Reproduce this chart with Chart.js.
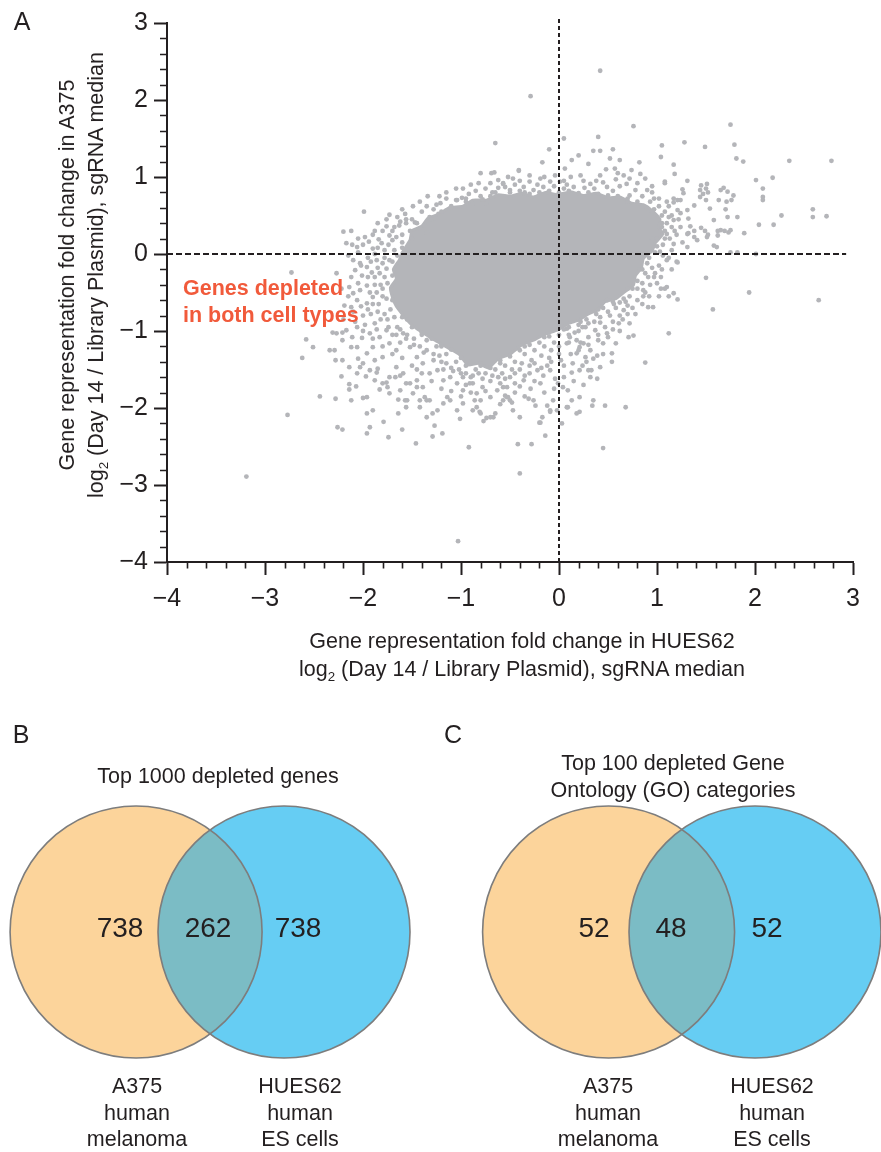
<!DOCTYPE html>
<html>
<head>
<meta charset="utf-8">
<script src="https://cdn.jsdelivr.net/npm/chart.js@4.4.1/dist/chart.umd.min.js"></script>
<style>
  html, body { margin: 0; padding: 0; background: #fff; }
  #fig { position: relative; width: 881px; height: 1152px; overflow: hidden;
         font-family: "Liberation Sans", Arial, Helvetica, sans-serif; color: #231f20; }
  canvas { position: absolute; }
  .t { position: absolute; white-space: nowrap; transform: translate(-50%, -50%);
       text-align: center; font-size: 21.5px; line-height: 27px; }
  .t sub { font-size: 0.62em; line-height: 0; vertical-align: -0.35em; }
  .panel { font-size: 25px; line-height: 30px; }
  .num { font-size: 28px; line-height: 32px; }
  .ann { position: absolute; white-space: nowrap; transform: translateY(-50%);
         font-size: 21.5px; line-height: 26.5px; font-weight: bold; color: #f15a3b; }
</style>
</head>
<body>
<div id="fig">
  <canvas id="scatterA" width="881" height="700" style="left:0;top:0"></canvas>
  <canvas id="vennB" width="440" height="452" style="left:0;top:700px"></canvas>
  <canvas id="vennC" width="441" height="452" style="left:440px;top:700px"></canvas>

  <div class="t panel" style="left:22px;top:21px">A</div>
  <div class="t" style="left:82px;top:275px;line-height:29px;transform:translate(-50%,-50%) rotate(-90deg)">Gene representation fold change in A375<br>log<sub>2</sub> (Day 14 / Library Plasmid), sgRNA median</div>
  <div class="t" style="left:522px;top:655px;line-height:28px">Gene representation fold change in HUES62<br>log<sub>2</sub> (Day 14 / Library Plasmid), sgRNA median</div>
  <div class="ann" style="left:183px;top:301px">Genes depleted<br>in both cell types</div>

  <div class="t panel" style="left:21px;top:734px">B</div>
  <div class="t" id="titleB" style="left:218px;top:776px"></div>
  <div class="t num" id="b0" style="left:120px;top:928px"></div>
  <div class="t num" id="b1" style="left:208px;top:928px"></div>
  <div class="t num" id="b2" style="left:298px;top:928px"></div>
  <div class="t" id="labB0" style="left:137px;top:1113px;line-height:26.5px"></div>
  <div class="t" id="labB1" style="left:300px;top:1113px;line-height:26.5px"></div>

  <div class="t panel" style="left:453px;top:734px">C</div>
  <div class="t" id="titleC" style="left:673px;top:777px"></div>
  <div class="t num" id="c0" style="left:594px;top:928px"></div>
  <div class="t num" id="c1" style="left:671px;top:928px"></div>
  <div class="t num" id="c2" style="left:767px;top:928px"></div>
  <div class="t" id="labC0" style="left:608px;top:1113px;line-height:26.5px"></div>
  <div class="t" id="labC1" style="left:772px;top:1113px;line-height:26.5px"></div>
</div>

<script>
// ---------- Panel A data: log2 fold change per gene (x = HUES62, y = A375) ----------
const xTickValues = [-4, -3, -2, -1, 0, 1, 2, 3];
const yTickValues = [-4, -3, -2, -1, 0, 1, 2, 3];

// Ragged outline of the saturated central cloud, where single genes merge into solid grey.
const denseCore = [
  [-1.60,0.02],[-1.52,0.18],[-1.50,0.30],[-1.40,0.36],[-1.34,0.46],[-1.22,0.52],[-1.12,0.60],
  [-0.98,0.62],[-0.88,0.70],[-0.74,0.70],[-0.62,0.77],[-0.50,0.75],[-0.38,0.79],[-0.26,0.74],
  [-0.14,0.80],[-0.01,0.77],[0.12,0.81],[0.25,0.76],[0.38,0.79],[0.50,0.73],[0.62,0.74],
  [0.74,0.66],[0.86,0.64],[0.96,0.55],[1.03,0.45],[1.02,0.34],[1.06,0.26],[0.98,0.14],
  [0.95,0.04],[0.86,-0.06],[0.84,-0.18],[0.78,-0.28],[0.76,-0.40],[0.66,-0.50],[0.58,-0.58],
  [0.47,-0.62],[0.40,-0.72],[0.30,-0.78],[0.20,-0.86],[0.10,-0.90],[-0.02,-0.99],[-0.14,-1.04],
  [-0.26,-1.12],[-0.38,-1.18],[-0.50,-1.30],[-0.62,-1.36],[-0.72,-1.48],[-0.82,-1.42],
  [-0.93,-1.44],[-1.02,-1.30],[-1.13,-1.22],[-1.24,-1.14],[-1.34,-1.06],[-1.44,-0.98],
  [-1.52,-0.90],[-1.60,-0.78],[-1.66,-0.68],[-1.70,-0.56],[-1.72,-0.44],[-1.66,-0.32],
  [-1.69,-0.20],[-1.63,-0.08],[-1.60,0.02]
];

// Individual genes around the cloud, upper side
const upperGenes = [
  [-1.76,0.45],[-1.73,0.51],[-1.57,0.52],[-1.56,0.45],[-1.49,0.62],[-1.34,0.75],[-1.25,0.64],
  [-1.21,0.66],[-1.04,0.70],[-0.99,0.73],[-0.95,0.72],[-0.88,0.66],[-0.82,0.92],[-0.80,1.05],
  [-0.69,1.05],[-0.66,1.06],[-0.68,0.80],[-0.57,0.92],[-0.55,0.87],[-0.78,0.71],[-0.74,0.66],
  [-2.17,0.14],[-2.11,0.12],[-2.06,0.09],[-2.00,0.12],[-1.94,0.16],[-1.90,0.07],[-1.84,0.19],
  [-1.81,0.14],[-1.73,0.24],[-1.70,0.18],[-1.66,0.22],[-1.60,0.15],[-1.70,0.30],[-1.63,0.37],
  [-1.56,0.40],[-1.52,0.30],[-1.47,0.41],[-1.42,0.33],[-1.37,0.37],[-1.35,0.28],[-1.32,0.48],
  [-1.27,0.46],[-1.23,0.52],
  [-0.57,0.91],[-0.47,0.98],[-0.41,1.09],[-0.50,0.83],[-0.36,0.87],[-0.30,0.94],[-0.26,0.83],
  [-0.19,0.98],[-0.16,0.87],[-0.11,0.80],[-0.09,0.94],[-0.04,1.02],[0.01,0.94],[0.06,1.11],
  [0.05,0.85],[0.22,1.02],[0.30,1.17],[0.32,0.91],[0.42,1.02],[0.49,0.87],[0.57,1.11],
  [0.66,1.02],[0.69,0.91],[0.74,1.09],[0.78,0.83],[0.83,1.04],[0.88,0.98],[0.90,0.83],
  [0.95,0.80],[0.97,0.72],
  [-0.10,1.36],[0.35,1.34],[0.42,1.34],[0.55,1.36],[-0.17,1.19],[-0.41,1.08],[0.13,1.22],
  [0.20,1.28],[0.52,1.24],[0.62,1.22],[0.82,1.19],[1.04,1.26],[1.17,1.16],[1.18,1.04],
  [1.31,0.95],[1.08,0.92],
  [-1.10,0.62],[-0.95,0.68],[-0.80,0.75],[-0.65,0.80],[-0.50,0.80],[-0.40,0.82],[-0.30,0.78],
  [-0.20,0.80],[-0.10,0.82],[0.00,0.80],[0.10,0.82],[0.20,0.79],[0.30,0.80],[0.40,0.78],
  [0.50,0.76],[0.60,0.75],[0.70,0.68],[0.80,0.68],[0.90,0.60],[-1.20,0.55],[-1.30,0.45],
  [-1.45,0.40],[-1.50,0.20],[-1.60,0.08],[-1.65,-0.02],
  [-1.05,0.70],[-0.92,0.78],[-0.85,0.82],[-0.75,0.85],[-0.62,0.86],[-0.45,0.90],[-0.35,0.80],
  [-0.22,0.90],[-0.05,0.88],[0.08,0.90],[0.15,0.87],[0.26,0.86],[0.36,0.85],[0.45,0.93],
  [0.55,0.82],[0.62,0.88],[0.72,0.76],[0.85,0.75],[0.93,0.68],[1.02,0.62],
  [-1.40,0.55],[-1.35,0.62],[-1.15,0.72],[-1.28,0.58],[-1.62,0.42],[-1.68,0.35],[-1.80,0.30],
  [-1.90,0.25],[-1.78,0.05],[-1.88,0.00],[-1.95,-0.05],[-2.05,0.02],[-2.15,-0.02],
  [-1.60,0.25],[-1.50,0.45],[-1.10,0.60],[-0.70,0.75],[0.70,0.72],[-0.98,0.85],[-0.30,1.02],
  [0.12,1.00],[0.38,0.95],[-1.15,0.80],[-0.62,0.96],[0.58,0.97],
  [-1.98,0.22],[-1.88,0.30],[-1.76,0.36],[-1.74,0.12],[-1.68,0.05],[-1.85,0.08],
  [1.10,0.68],[1.02,0.72],[0.95,0.88],[0.80,0.92],[0.72,0.98],[0.60,1.05],[0.48,1.10],
  [0.25,0.95],[0.05,0.95],[-0.15,1.00],[-0.40,0.95],[-0.52,1.00],[-0.70,0.92],[-0.90,0.90],
  [-1.05,0.85],[-1.22,0.75],[-1.42,0.68],[-1.60,0.58],[-1.65,0.48],[-1.85,0.40],[-2.05,0.20],
  [-2.12,0.30]
];

// Individual genes, right side of the cloud
const rightGenes = [
  [1.45,0.89],[1.50,0.85],[1.47,0.78],[1.52,0.80],[1.50,0.70],[1.68,0.86],[1.72,0.81],[1.78,0.76],
  [1.76,0.70],[1.26,0.84],[1.27,0.79],[1.17,0.72],[1.21,0.70],[1.72,0.48],[1.82,0.48],[1.70,0.58],
  [1.63,0.70],[1.32,0.46],[1.34,0.36],[1.38,0.30],[1.32,0.27],[1.45,0.34],[1.49,0.30],[1.52,0.25],
  [1.62,0.30],[1.62,0.24],[1.69,0.30],[1.73,0.28],[1.24,0.53],[1.21,0.57],[1.17,0.67],[1.58,0.11],
  [1.75,0.02],[1.82,0.02],
  [1.08,0.94],[1.24,0.70],[1.31,0.57],[1.38,0.63],[1.44,0.83],[1.51,0.91],[1.44,0.74],[1.54,0.59],
  [1.58,0.44],[1.65,0.31],[1.75,0.31],[1.65,0.83],[1.71,0.68],[1.17,0.44],[1.24,0.35],[1.31,0.26],
  [1.38,0.22],[1.10,0.26],[1.17,0.13],[1.31,0.09],[1.41,0.18],[1.51,0.22],[1.61,0.09],[1.03,0.03],
  [1.10,-0.08],[1.20,-0.10],[1.10,-0.43],[1.17,-0.51],[0.86,-0.47],[0.97,-0.30],
  [0.91,-0.69],[0.96,-0.69],[1.12,-0.55],[1.21,-0.59],[1.04,-0.45],[1.08,-0.45],[0.91,-0.30],
  [1.04,-0.30],[0.86,-0.55],
  [0.97,0.58],[1.05,0.50],[1.10,0.40],[1.08,0.20],[1.00,0.10],[1.05,0.40],[1.08,0.30],[1.00,0.20],
  [1.06,0.12],[0.98,0.02],[0.92,-0.05],[0.95,-0.18],[0.88,-0.25],[0.85,-0.38],[0.80,-0.45],
  [0.72,-0.55],[0.68,-0.62],[0.90,-0.12],[0.85,-0.20],[0.80,-0.35],[0.75,-0.45],[0.66,-0.58],
  [1.08,0.55],[1.12,0.48],[1.15,0.35],[1.20,0.25],[1.13,0.20],[1.15,0.05],[1.06,-0.02],
  [1.02,-0.15],[0.98,-0.25],[0.93,-0.40],[0.88,-0.50],[0.80,-0.60],[0.75,-0.70],[0.70,-0.78],
  [0.62,-0.80],[0.55,-0.88],[0.47,-0.95],[0.40,-1.05],[0.30,-1.08],[0.22,-1.15],
  [0.95,0.55],[1.05,0.35],[0.95,0.20],[0.88,0.00],[0.82,-0.20],[0.70,-0.45],[0.55,-0.62],
  [1.12,0.62],[1.22,0.45],[1.26,0.15],[1.15,-0.20],[1.02,-0.55],
  [0.65,-0.85],[0.72,-0.90],[0.78,-0.78],[0.85,-0.65],[0.92,-0.55],[1.00,-0.38],[1.05,-0.20],
  [1.12,-0.05],[1.18,0.30],[1.15,0.50]
];

// Individual genes, lower side of the cloud
const lowerGenes = [
  [0.35,-1.36],[0.39,-1.32],[0.42,-1.47],[0.30,-1.51],[0.32,-1.60],[0.21,-1.21],[0.25,-1.16],
  [0.32,-1.25],[0.18,-1.29],[0.27,-1.34],[0.13,-1.54],[0.21,-1.51],[0.24,-1.45],[0.14,-1.42],
  [0.21,-1.86],[0.13,-1.90],[0.09,-1.99],[0.18,-2.07],[0.34,-1.97],[0.35,-1.90],[0.04,-1.73],
  [0.09,-1.77],[-0.06,-1.90],[-0.09,-2.03],[-0.12,-1.97],[-0.17,-2.12],[-0.26,-1.90],[-0.24,-1.97],
  [-0.31,-1.88],[-0.40,-2.12],[-0.19,-2.19],[-0.14,-2.36],[-0.47,-2.03],[-0.50,-1.90],[-0.55,-1.84],
  [-0.53,-1.73],[-0.45,-1.68],[-0.36,-1.64],[-0.29,-1.75],[-0.19,-1.68],[-0.22,-1.51],[-0.16,-1.58],
  [-0.09,-1.51],[-0.04,-1.62],[-0.01,-1.68],[0.08,-1.16],[0.11,-1.08],[0.18,-1.12],[0.16,-1.02],
  [0.08,-0.97],[0.24,-0.95],[0.30,-0.90],[0.37,-0.99],[0.42,-0.89],[0.49,-1.03],[0.58,-1.16],
  [0.61,-0.90],[0.52,-0.80],[0.45,-1.16],[0.62,-0.63],[0.66,-0.73],[0.70,-0.67],[0.56,-0.65],
  [0.49,-0.60],
  [-0.42,-2.47],[-0.28,-2.47],[-0.92,-2.51],[-1.19,-2.33],[-0.20,-2.19],[-0.77,-2.17],[-0.67,-2.12],
  [-1.01,-2.14],[-0.88,-2.03],[-0.81,-2.05],[-0.09,-2.05],[-0.02,-2.03],[0.03,-2.20],[0.21,-2.05],
  [0.47,-1.97],[-0.52,-1.86],[-0.48,-1.93],[-1.14,-1.86],[-1.11,-1.90],[0.71,-1.08],[0.76,-1.06],
  [0.54,-1.40],[0.54,-1.29],[0.39,-1.62],[0.33,-1.51],[0.08,-1.99],
  [0.58,-0.70],[0.50,-0.75],[0.42,-0.82],[0.36,-0.88],[0.27,-0.95],[0.20,-1.00],[0.10,-1.05],
  [0.45,-0.70],[0.38,-0.78],[0.28,-0.85],[0.20,-0.92],[0.10,-0.95],[0.00,-1.05],[-0.10,-1.07],
  [-0.20,-1.15],[-0.30,-1.18],[-0.40,-1.25],[-0.50,-1.33],[-0.60,-1.38],[-0.70,-1.48],[-0.80,-1.42],
  [-0.90,-1.40],[-1.00,-1.30],[-1.10,-1.24],[-1.20,-1.18],[-1.30,-1.10],[-1.40,-1.02],[-1.50,-0.95],
  [-1.60,-0.82],[-1.35,-1.12],[-1.25,-1.20],[-1.15,-1.30],[-1.05,-1.40],[-0.95,-1.45],[-0.85,-1.50],
  [-0.75,-1.55],[-0.65,-1.50],[-0.55,-1.45],[-0.45,-1.40],[-0.35,-1.30],[-0.25,-1.25],[-0.15,-1.20],
  [-0.05,-1.15],[-1.20,-1.40],[-1.00,-1.55],[-0.90,-1.60],[-0.70,-1.65],[-0.50,-1.60],[-0.40,-1.50],
  [-0.30,-1.45],[-0.10,-1.35],[0.00,-1.30],
  [-0.86,-1.90],[-0.84,-1.99],[-0.80,-2.07],[-0.74,-2.13],[-0.70,-2.12],[-0.65,-2.07],[-0.57,-1.90],
  [-0.53,-1.86],
  [0.10,-1.15],[0.00,-1.20],[-0.08,-1.25],[-0.18,-1.32],[-0.28,-1.38],[-0.38,-1.42],[-0.48,-1.50],
  [-0.58,-1.55],[-0.68,-1.58],[-0.78,-1.62],[-0.88,-1.68],[-0.98,-1.60],[-1.08,-1.52],[-1.18,-1.50],
  [-1.28,-1.38],[-1.38,-1.28],[-1.48,-1.18],[-1.56,-1.10],[-1.66,-1.05],[-1.74,-0.95],[-1.82,-0.85],
  [0.40,-0.72],[0.22,-0.88],[0.05,-0.98],[-0.15,-1.08],[-0.35,-1.20],[-0.60,-1.42],[-0.80,-1.45],
  [-1.00,-1.35],[-1.20,-1.20],[-1.40,-1.05],[-1.55,-0.85],
  [-1.30,-1.65],[-1.20,-1.75],[-1.10,-1.78],[-1.00,-1.85],[-0.90,-1.80],[-0.80,-1.90],[-0.60,-1.95],
  [-0.45,-1.80],[-0.35,-1.85],[-0.25,-1.65],[-0.15,-1.80],[-0.05,-1.75],[0.05,-1.60],[0.15,-1.65],
  [0.25,-1.70],[-0.30,-1.55],[-0.60,-1.68],[-0.75,-1.78],[-1.40,-1.55],[-1.50,-1.45],[-0.95,-1.70],
  [-0.40,-1.72],[0.05,-1.45],[-0.12,-1.45],[0.28,-1.40],[0.45,-1.30],[0.62,-1.00],
  [-1.15,-1.42],[-1.10,-1.48],[-1.02,-1.50],[-0.95,-1.55],[-0.88,-1.58],[-0.82,-1.55],[-0.62,-1.60],
  [-0.55,-1.62],[-0.45,-1.55],[-0.35,-1.58],[-0.25,-1.42],[-0.18,-1.48],[-0.08,-1.40],[0.02,-1.38],
  [0.12,-1.30],[0.20,-1.25],[0.30,-1.18],[0.40,-1.12],[0.50,-1.08],[0.55,-0.98]
];

// Individual genes, left side of the cloud
const leftGenes = [
  [-2.10,-0.08],[-2.03,-0.12],[-2.08,-0.21],[-1.96,-0.17],[-2.01,-0.28],[-1.91,-0.24],[-1.86,-0.08],
  [-1.80,-0.12],[-1.83,-0.25],[-1.76,-0.19],[-1.73,-0.08],[-1.70,-0.28],[-2.27,-0.25],
  [-2.14,-0.43],[-2.10,-0.51],[-2.03,-0.47],[-1.96,-0.41],[-1.93,-0.50],[-2.06,-0.60],[-1.96,-0.64],
  [-1.90,-0.56],[-2.19,-0.67],[-2.12,-0.69],
  [-1.85,-0.75],[-1.75,-0.85],[-1.65,-0.95],[-2.00,-0.80],[-1.90,-0.65],[-2.20,-0.85],[-2.10,-0.75],
  [-1.72,-0.72],[-1.80,-0.55],[-1.82,-0.40],[-1.78,-0.30],
  [-1.92,-0.78],[-2.02,-0.68],[-1.88,-0.40],[-1.95,-0.30],[-2.05,-0.38],[-2.15,-0.55],[-2.22,-0.45],
  [-1.70,-0.60],[-1.75,-0.38],[-1.70,-0.10],
  [-2.02,-0.15],[-1.92,-0.10],[-1.85,-0.18],[-1.78,-0.05],[-2.12,-0.30],[-1.88,-0.30],[-1.80,-0.45],
  [-1.86,-0.50],[-1.76,-0.58],[-1.84,-0.65],[-1.78,-0.78],[-1.68,-0.82],[-1.95,-0.72],[-2.08,-0.88],
  [-1.98,-0.92],[-1.86,-0.98],[-1.70,-1.05],[-1.62,-0.98],[-1.55,-1.05],[-1.48,-1.10],[-1.42,-1.20],
  [-1.35,-1.25],[-1.28,-1.30],[-1.22,-1.32],
  [-2.31,-1.02],[-2.21,-1.02],[-2.06,-0.95],[-2.01,-1.09],[-1.93,-1.03],[-1.88,-0.90],[-1.83,-1.08],
  [-1.76,-0.99],[-1.73,-1.16],[-1.66,-1.25],[-1.59,-1.03],[-1.52,-1.21],[-1.45,-1.34],[-1.39,-1.42],
  [-1.32,-1.55],[-1.24,-1.51],[-1.18,-1.64],[-1.11,-1.60],[-1.04,-1.68],[-0.98,-1.77],[-0.91,-1.68],
  [-0.84,-1.81],[-0.78,-1.73],[-0.70,-1.86],[-0.63,-1.77],[-0.57,-1.73],[-2.21,-1.38],[-2.14,-1.47],
  [-2.06,-1.55],[-2.00,-1.42],[-1.93,-1.51],[-1.88,-1.64],[-1.80,-1.68],[-1.73,-1.60],[-1.66,-1.47],
  [-1.59,-1.55],[-1.52,-1.68],[-1.45,-1.64],[-1.73,-1.81],[-1.62,-1.77],[-1.55,-1.90],[-1.49,-1.81],
  [-1.42,-1.99],[-1.35,-1.90],[-1.24,-2.03],[-1.18,-1.94],[-1.04,-2.03],[-0.98,-1.94],[-2.06,-1.21],
  [-1.96,-1.29],[-1.90,-1.21],[-1.80,-1.34],[-1.96,-1.86],[-1.90,-2.03],
  [-1.60,-1.35],[-1.70,-1.30],[-1.80,-1.20],[-1.90,-1.10],[-2.00,-1.00],[-1.62,-1.15],[-1.45,-1.50],
  [-2.62,-1.35],[-2.51,-1.21],[-2.58,-1.11],[-2.34,-1.25],[-2.29,-1.25],[-2.28,-1.38],[-2.22,-1.59],
  [-2.14,-1.69],[-2.14,-1.76],[-2.07,-1.72],[-2.12,-1.21],[-2.21,-1.12],[-2.05,-1.36],[-2.03,-1.47],
  [-1.97,-1.59],[-1.88,-1.38],[-1.85,-1.49],[-1.86,-1.54],[-1.76,-1.67],[-1.75,-1.73],[-1.83,-1.76],
  [-1.67,-1.60],[-1.62,-1.58],[-1.56,-1.68],[-1.45,-1.73],[-1.39,-1.73],[-1.42,-1.90],[-1.37,-1.86],
  [-1.32,-1.90],[-1.35,-2.12],[-1.29,-2.07],[-1.27,-2.23],[-2.27,-1.03],[-2.17,-0.99],[-2.11,-1.08],
  [-2.28,-1.88],[-2.26,-2.25],[-2.21,-2.28],[-2.12,-1.90],[-2.00,-1.87],[-1.96,-2.07],[-1.93,-2.25],
  [-1.96,-2.33],[-1.79,-2.18],[-1.74,-2.38],[-1.60,-2.28],[-1.46,-2.46],[-1.29,-2.37],[-1.64,-1.89],
  [-1.57,-1.90],[-1.64,-2.07],[-1.56,-1.99]
];

// Isolated genes far from the cloud
const outlierGenes = [
  [0.42,2.38],[-0.29,2.05],[0.76,1.66],[1.75,1.68],[-0.65,1.44],[0.05,1.50],[0.40,1.52],[1.05,1.41],
  [1.28,1.45],[1.49,1.39],[1.79,1.42],[1.81,1.24],[1.88,1.20],[2.35,1.21],[2.78,1.21],[2.01,0.96],
  [2.18,0.99],[2.08,0.85],[2.08,0.74],[2.08,0.70],[2.59,0.58],[2.59,0.48],[2.73,0.49],[2.27,0.50],
  [2.19,0.38],[2.04,0.38],[1.89,0.27],[2.01,0.00],[1.94,-0.50],[2.65,-0.60],[1.57,-0.72],[1.50,-0.31],
  [1.21,-0.11],[-1.03,-3.73],[-0.40,-2.85],[0.45,-2.52],[-3.19,-2.89],[-2.77,-2.09],[-2.44,-1.85],
  [-2.73,-0.24],[-2.20,0.29],[-1.99,0.55],[0.88,-1.41],[1.12,-1.03],[0.68,-1.99]
];

// Zero reference lines
const zeroH = [[-4, 0], [2.93, 0]];
const zeroV = [[0, -4], [0, 3.07]];

// ---------- Panels B and C data ----------
const setNames = [["A375", "human", "melanoma"], ["HUES62", "human", "ES cells"]];
const genesCounts = [738, 262, 738];  // A375 only, shared, HUES62 only
const goCounts = [52, 48, 52];
const genesTitle = ["Top 1000 depleted genes"];
const goTitle = ["Top 100 depleted Gene", "Ontology (GO) categories"];

// ---------- styling ----------
const INK = "#231f20";
const DOT = "#b4b5b9";
const FONT = "'Liberation Sans', Arial, Helvetica, sans-serif";
Chart.defaults.font.family = FONT;
Chart.defaults.color = INK;

const toXY = arr => arr.map(([x, y]) => ({ x, y }));
const fmt = v => (v < 0 ? "\u2212" + Math.abs(v) : String(v));

// Minor tick marks at every 0.2 along both axes
const minorTicks = {
  id: "minorTicks",
  afterDraw(chart) {
    const { ctx, chartArea: a, scales: { x, y } } = chart;
    ctx.save();
    ctx.strokeStyle = INK;
    ctx.lineWidth = 1.6;
    ctx.beginPath();
    for (let k = Math.round(x.min * 5); k <= Math.round(x.max * 5); k++) {
      if (k % 5 === 0) continue;
      const px = Math.round(x.getPixelForValue(k / 5)) + 0.5;
      ctx.moveTo(px, a.bottom);
      ctx.lineTo(px, a.bottom + 6.5);
    }
    for (let k = Math.round(y.min * 5); k <= Math.round(y.max * 5); k++) {
      if (k % 5 === 0) continue;
      const py = Math.round(y.getPixelForValue(k / 5)) + 0.5;
      ctx.moveTo(a.left - 7, py);
      ctx.lineTo(a.left, py);
    }
    ctx.stroke();
    ctx.restore();
  }
};

const axisCommon = (vals) => ({
  type: "linear",
  min: vals[0],
  max: vals[vals.length - 1],
  afterBuildTicks: s => { s.ticks = vals.map(v => ({ value: v })); },
  ticks: { font: { size: 25 }, color: INK, autoSkip: false, maxRotation: 0, callback: v => fmt(v) },
  grid: { display: true, drawOnChartArea: false, drawTicks: true, tickLength: 13, tickWidth: 2, tickColor: INK, color: INK },
  border: { display: true, color: INK, width: 2 }
});

const xScale = axisCommon(xTickValues);
xScale.ticks.padding = 9;
xScale.afterFit = s => { s.height = 138; };
const yScale = axisCommon(yTickValues);
yScale.ticks.padding = 6;
yScale.afterFit = s => { s.width = 167; };

const genePoints = [...upperGenes, ...rightGenes, ...lowerGenes, ...leftGenes, ...outlierGenes];

new Chart(document.getElementById("scatterA"), {
  type: "scatter",
  data: {
    datasets: [
      { data: toXY(zeroH), showLine: true, pointRadius: 0, borderColor: INK, borderWidth: 2,
        borderDash: [6, 3], clip: false },
      { data: toXY(zeroV), showLine: true, pointRadius: 0, borderColor: INK, borderWidth: 2,
        borderDash: [4, 3], clip: false },
      { data: toXY(genePoints), pointRadius: 2.4, pointBackgroundColor: DOT, pointBorderWidth: 0,
        pointHoverRadius: 2.4 },
      { data: toXY(denseCore), showLine: true, pointRadius: 0, borderColor: DOT, borderWidth: 3,
        backgroundColor: DOT, fill: "shape", tension: 0.15 }
    ]
  },
  options: {
    responsive: false,
    animation: false,
    events: [],
    layout: { padding: { top: 23, right: 28, left: 0, bottom: 0 } },
    plugins: { legend: { display: false }, tooltip: { enabled: false } },
    scales: { x: xScale, y: yScale }
  },
  plugins: [minorTicks]
});

// ---------- Venn diagrams ----------
// The bubble layout insets the plot area by the circle radius on every side,
// so the axis ranges below are given for that inner area (unit = one radius).
const R = 126;
const lensPlugin = {
  id: "lens",
  afterDatasetsDraw(chart, args, opts) {
    const a = chart.getDatasetMeta(0).data[0];
    const b = chart.getDatasetMeta(1).data[0];
    const ctx = chart.ctx;
    ctx.save();
    ctx.beginPath(); ctx.arc(b.x, b.y, b.options.radius, 0, Math.PI * 2); ctx.clip();
    ctx.beginPath(); ctx.arc(a.x, a.y, a.options.radius, 0, Math.PI * 2);
    ctx.fillStyle = opts.color; ctx.fill();
    ctx.restore();
    ctx.save();
    ctx.strokeStyle = opts.edge; ctx.lineWidth = 1.6;
    [a, b].forEach(e => { ctx.beginPath(); ctx.arc(e.x, e.y, e.options.radius, 0, Math.PI * 2); ctx.stroke(); });
    ctx.restore();
  }
};

function drawVenn(id, halfSep, xRange, yRange) {
  new Chart(document.getElementById(id), {
    type: "bubble",
    data: {
      datasets: [
        { data: [{ x: -halfSep, y: 0, r: R }], backgroundColor: "#fcd49b", borderWidth: 0, clip: false },
        { data: [{ x: halfSep, y: 0, r: R }], backgroundColor: "#66cdf3", borderWidth: 0, clip: false }
      ]
    },
    options: {
      responsive: false, animation: false, events: [],
      layout: { padding: 0 },
      plugins: { legend: { display: false }, tooltip: { enabled: false },
                 lens: { color: "#7bbcc5", edge: "#7d7d7d" } },
      scales: {
        x: { display: false, min: xRange[0], max: xRange[1] },
        y: { display: false, min: yRange[0], max: yRange[1] }
      }
    },
    plugins: [lensPlugin]
  });
}
drawVenn("vennB", 0.587, [-0.667, 0.825], [-0.746, 0.841]);
drawVenn("vennC", 0.581, [-0.919, 0.581], [-0.746, 0.841]);

// ---------- Venn labels ----------
const put = (id, lines) => { document.getElementById(id).innerHTML = lines.join("<br>"); };
put("titleB", genesTitle);
put("titleC", goTitle);
["b0", "b1", "b2"].forEach((id, i) => put(id, [genesCounts[i]]));
["c0", "c1", "c2"].forEach((id, i) => put(id, [goCounts[i]]));
put("labB0", setNames[0]); put("labB1", setNames[1]);
put("labC0", setNames[0]); put("labC1", setNames[1]);
</script>
</body>
</html>
